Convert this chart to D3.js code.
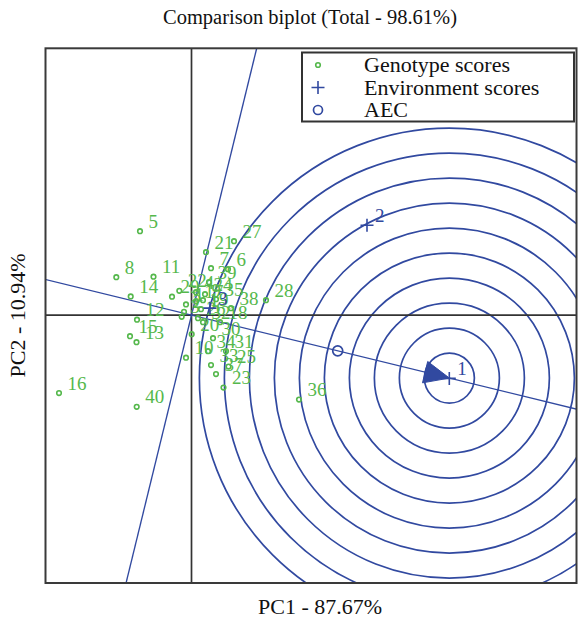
<!DOCTYPE html>
<html>
<head>
<meta charset="utf-8">
<script src="https://cdn.jsdelivr.net/npm/d3@7/dist/d3.min.js"></script>
<style>
  html, body { margin: 0; padding: 0; background: #fff; }
  svg { display: block; }
  text { font-family: "Liberation Serif", "Times New Roman", serif; }
</style>
</head>
<body>
<svg id="chart" width="578" height="622"></svg>
<script>
// ---------------- data ----------------
const title = "Comparison biplot (Total - 98.61%)";
const xLabel = "PC1 - 87.67%";
const yLabel = "PC2 - 10.94%";
const legendLabels = ["Genotype scores", "Environment scores", "AEC"];

const genotypeNames = ["1","2","3","4","5","6","7","8","9","10",
  "11","12","13","14","15","16","17","18","19","20",
  "21","22","23","24","25","26","27","28","29","30",
  "31","32","33","34","35","36","37","38","39","40"];
const genotypePC1 = [-0.055,-0.075,-0.098,0.045,-0.515,0.365,0.195,-0.752,0.115,-0.055,
  -0.38,-0.545,-0.55,-0.608,-0.615,-1.325,0.045,0.285,0.095,0.002,
  0.145,-0.122,0.32,0.135,0.37,0.065,0.425,0.745,-0.195,0.215,
  0.345,0.115,0.195,0.165,0.245,1.075,0.245,0.395,0.175,-0.548];
const genotypePC2 = [0.107,0.033,-0.017,0.23,0.84,0.46,0.47,0.38,0.15,-0.425,
  0.385,-0.045,-0.27,0.187,-0.21,-0.78,0.14,-0.07,0.06,-0.19,
  0.63,0.243,-0.725,0.21,-0.515,-0.03,0.74,0.15,0.185,-0.23,
  -0.36,-0.07,-0.5,-0.36,0.16,-0.845,-0.59,0.07,0.33,-0.917];

const envNames = ["1","2","3"];
const envPC1 = [2.578, 1.755, 0.185];
const envPC2 = [-0.633, 0.90, 0.07];

// average environment coordinate (AEC marker)
const aecPC1 = 1.462;
const aecPC2 = -0.357;

// concentric circle radii around the ideal environment
const ringRadii = [0.25,0.5,0.75,1.0,1.25,1.5,1.75,2.0,2.25,2.5];

const xDomain = [-1.46, 3.85];
const yDomain = [-2.68, 2.67];

// ---------------- layout ----------------
const green = "#55b84c";
const blue = "#3149a0";
const svg = d3.select("#chart");
const plot = {left: 45.5, top: 48.3, right: 576.5, bottom: 583};

const x = d3.scaleLinear().domain(xDomain).range([plot.left, plot.right]);
const y = d3.scaleLinear().domain(yDomain).range([plot.bottom, plot.top]);
const pxPerUnit = x(1) - x(0);

svg.append("defs").append("clipPath").attr("id","clip")
  .append("rect").attr("x",plot.left).attr("y",plot.top)
  .attr("width",plot.right-plot.left).attr("height",plot.bottom-plot.top);

const g = svg.append("g").attr("clip-path","url(#clip)");

// ideal environment: on AEC at the length of the longest environment vector
const aecLen = Math.hypot(aecPC1, aecPC2);
const ux = aecPC1 / aecLen, uy = aecPC2 / aecLen;
const maxEnvLen = d3.max(envPC1.map((v,i)=>Math.hypot(v, envPC2[i])));
const idealPC1 = ux * maxEnvLen, idealPC2 = uy * maxEnvLen;

// rings
g.selectAll("circle.ring").data(ringRadii).join("circle")
  .attr("class","ring")
  .attr("cx", x(idealPC1)).attr("cy", y(idealPC2))
  .attr("r", d => d * pxPerUnit)
  .attr("fill","none").attr("stroke", blue).attr("stroke-width",1.7);

// axes through origin
g.append("line").attr("x1",x(0)).attr("x2",x(0)).attr("y1",plot.top).attr("y2",plot.bottom)
  .attr("stroke","#333").attr("stroke-width",1.7);
g.append("line").attr("x1",plot.left).attr("x2",plot.right).attr("y1",y(0)).attr("y2",y(0))
  .attr("stroke","#333").attr("stroke-width",1.7);

// AEC abscissa and ordinate lines
const L = 20;
g.append("line")
  .attr("x1", x(-ux*L)).attr("y1", y(-uy*L)).attr("x2", x(ux*L)).attr("y2", y(uy*L))
  .attr("stroke", blue).attr("stroke-width",1.35);
g.append("line")
  .attr("x1", x(uy*L)).attr("y1", y(-ux*L)).attr("x2", x(-uy*L)).attr("y2", y(ux*L))
  .attr("stroke", blue).attr("stroke-width",1.35);

// arrow head at ideal point
{
  const tipX = x(idealPC1), tipY = y(idealPC2);
  const ang = Math.atan2(tipY - y(0), tipX - x(0));
  const len = 25, half = 11;
  const bx = tipX - len*Math.cos(ang), by = tipY - len*Math.sin(ang);
  const nx = -Math.sin(ang), ny = Math.cos(ang);
  g.append("path")
    .attr("d", `M${tipX},${tipY}L${bx+nx*half},${by+ny*half}L${bx-nx*half},${by-ny*half}Z`)
    .attr("fill", blue).attr("stroke", blue).attr("stroke-width",1);
}

// genotype points and labels
const geno = genotypeNames.map((n,i)=>({n, a: genotypePC1[i], b: genotypePC2[i]}));
g.selectAll("circle.geno").data(geno).join("circle")
  .attr("class","geno")
  .attr("cx", d=>x(d.a)).attr("cy", d=>y(d.b)).attr("r", 2.3)
  .attr("fill","none").attr("stroke", green).attr("stroke-width",1.6);
g.selectAll("text.geno").data(geno).join("text")
  .attr("class","geno")
  .attr("x", d=>x(d.a)+8.5).attr("y", d=>y(d.b)-3.5)
  .attr("font-size", 19).attr("fill", green)
  .text(d=>d.n);

// environment markers
const env = envNames.map((n,i)=>({n, a: envPC1[i], b: envPC2[i]}));
const cs = 6.5;
g.selectAll("path.env").data(env).join("path")
  .attr("class","env")
  .attr("d", d=>{const cx=x(d.a), cy=y(d.b); return `M${cx-cs},${cy}H${cx+cs}M${cx},${cy-cs}V${cy+cs}`;})
  .attr("stroke", blue).attr("stroke-width",1.6).attr("fill","none");
g.selectAll("text.env").data(env).join("text")
  .attr("class","env")
  .attr("x", d=>x(d.a)+8).attr("y", d=>y(d.b)-3)
  .attr("font-size", 19).attr("fill", blue)
  .text(d=>d.n);

// AEC marker
g.append("circle").attr("cx", x(aecPC1)).attr("cy", y(aecPC2)).attr("r", 5)
  .attr("fill","none").attr("stroke", blue).attr("stroke-width",1.7);

// frame
svg.append("rect").attr("x",plot.left).attr("y",plot.top)
  .attr("width",plot.right-plot.left).attr("height",plot.bottom-plot.top)
  .attr("fill","none").attr("stroke","#3a3a3a").attr("stroke-width",2);

// legend
const lg = svg.append("g");
lg.append("rect").attr("x",302).attr("y",52.5).attr("width",272).attr("height",69)
  .attr("fill","#fff").attr("stroke","#333").attr("stroke-width",2);
const rowY = [65, 87.5, 110];
lg.append("circle").attr("cx",318).attr("cy",rowY[0]).attr("r",2.3)
  .attr("fill","none").attr("stroke",green).attr("stroke-width",1.6);
lg.append("path").attr("d",`M${318-6.5},${rowY[1]}H${318+6.5}M318,${rowY[1]-6.5}V${rowY[1]+6.5}`)
  .attr("stroke",blue).attr("stroke-width",1.6);
lg.append("circle").attr("cx",318).attr("cy",rowY[2]).attr("r",4.5)
  .attr("fill","none").attr("stroke",blue).attr("stroke-width",1.7);
lg.selectAll("text").data(legendLabels).join("text")
  .attr("x",364).attr("y",(d,i)=>rowY[i]+7)
  .attr("font-size",22).attr("fill","#111").text(d=>d);

// titles
svg.append("text").attr("x",310).attr("y",24).attr("text-anchor","middle")
  .attr("font-size",20.5).attr("fill","#111").text(title);
svg.append("text").attr("x",320).attr("y",614).attr("text-anchor","middle")
  .attr("font-size",22).attr("fill","#111").text(xLabel);
svg.append("text").attr("transform","translate(25,315.5) rotate(-90)").attr("text-anchor","middle")
  .attr("font-size",22).attr("fill","#111").text(yLabel);
</script>
</body>
</html>
